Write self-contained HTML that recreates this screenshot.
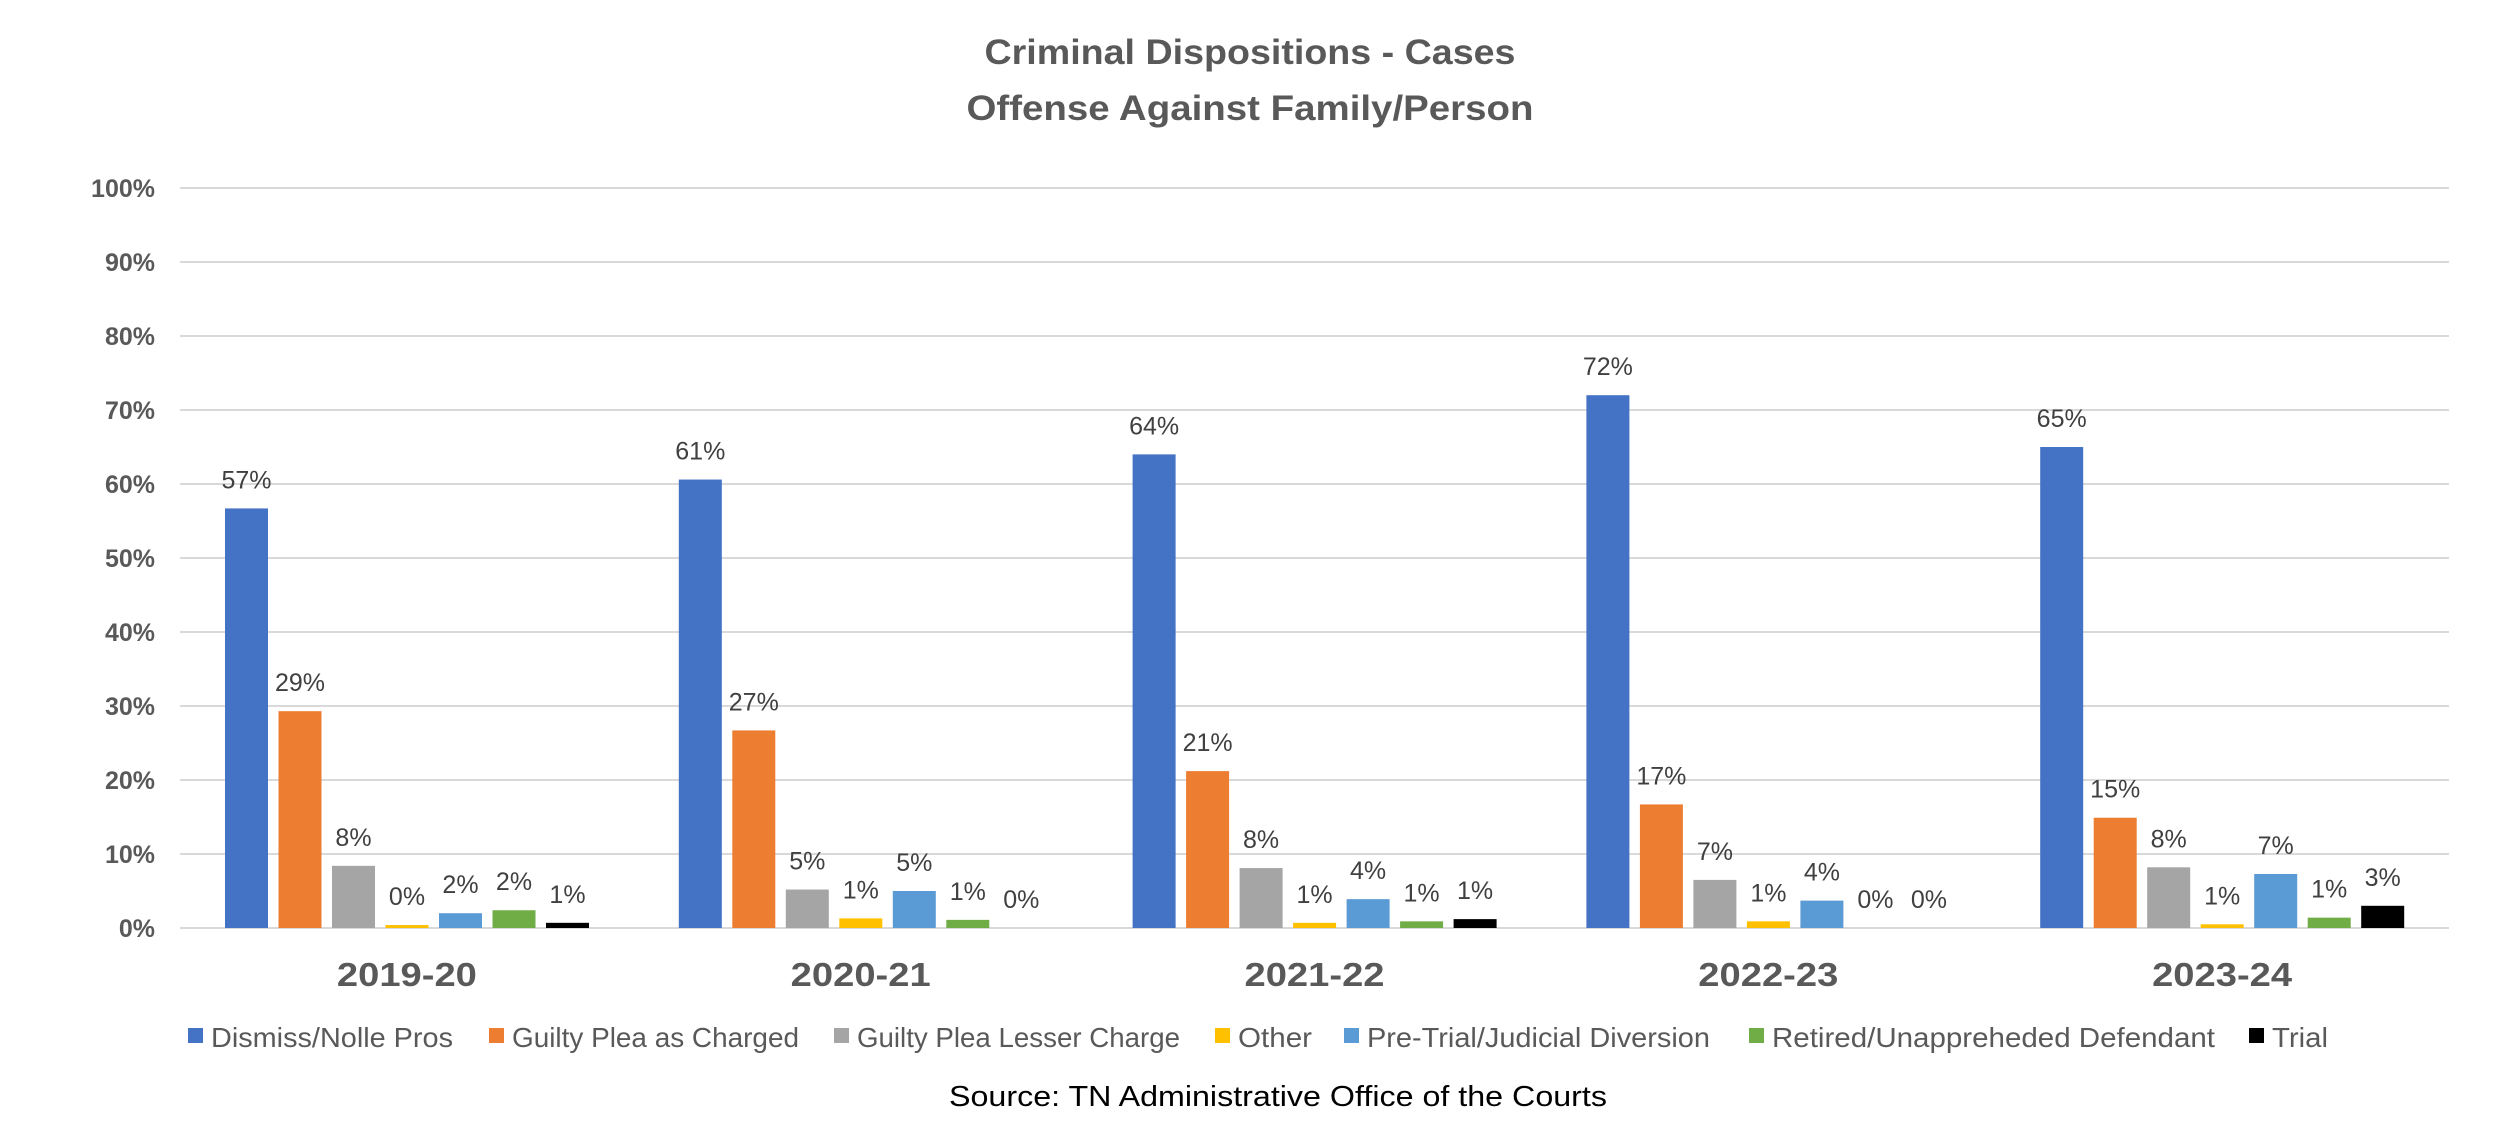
<!DOCTYPE html>
<html><head><meta charset="utf-8"><style>
body{margin:0;background:#fff;}
svg{display:block;font-family:"Liberation Sans",sans-serif;}
</style></head><body>
<svg id="c" width="2500" height="1136" xmlns="http://www.w3.org/2000/svg">
<text x="1250" y="64" text-anchor="middle" font-size="35" font-weight="bold" fill="#595959" textLength="531" lengthAdjust="spacingAndGlyphs">Criminal Dispositions - Cases</text>
<text x="1250" y="120" text-anchor="middle" font-size="35" font-weight="bold" fill="#595959" textLength="567" lengthAdjust="spacingAndGlyphs">Offense Against Family/Person</text>
<text x="1278" y="1106" text-anchor="middle" font-size="29" fill="#000" textLength="658" lengthAdjust="spacingAndGlyphs">Source: TN Administrative Office of the Courts</text>
<g id="grid"></g><g id="bars"></g><g id="legend"></g>
</svg>
<script>
const categories=["2019-20","2020-21","2021-22","2022-23","2023-24"];
const seriesNames=["Dismiss/Nolle Pros","Guilty Plea as Charged","Guilty Plea Lesser Charge","Other","Pre-Trial/Judicial Diversion","Retired/Unappreheded Defendant","Trial"];
const dismiss=[56.7,60.6,64.0,72.0,65.0];
const pleaCharged=[29.3,26.7,21.2,16.7,14.9];
const pleaLesser=[8.4,5.2,8.1,6.5,8.2];
const other=[0.4,1.3,0.7,0.9,0.5];
const diversion=[2.0,5.0,3.9,3.7,7.3];
const retired=[2.4,1.1,0.9,0.0,1.4];
const trial=[0.7,0.0,1.2,0.0,3.0];
const yTicks=[0,10,20,30,40,50,60,70,80,90,100];
const colors=["#4472C4","#ED7D31","#A5A5A5","#FFC000","#5B9BD5","#70AD47","#000000"];
const series=[dismiss,pleaCharged,pleaLesser,other,diversion,retired,trial];
const NS="http://www.w3.org/2000/svg";
const L=180,R=2449,T=188,B=928;
const y=v=>B-(v/100)*(B-T);
const gw=(R-L)/categories.length;
const x=(ci,si)=>L+ci*gw+45+si*53.5;
function mk(tag,attrs,parent){const e=document.createElementNS(NS,tag);for(const k in attrs)e.setAttribute(k,attrs[k]);parent.appendChild(e);return e;}
const grid=document.getElementById('grid'),bars=document.getElementById('bars'),leg=document.getElementById('legend');
yTicks.forEach(t=>{
 const l=mk('line',{x1:L,x2:R,y1:y(t),y2:y(t),stroke:'#d9d9d9','stroke-width':2},grid);
 
 
 const tx=mk('text',{x:155,y:y(t)+9,'text-anchor':'end','font-size':25,'font-weight':'bold',fill:'#595959'},grid);
 tx.textContent=t+'%';
 
 
});
categories.forEach((c,ci)=>{
 const tx=mk('text',{x:L+ci*gw+gw/2,y:986,'text-anchor':'middle','font-size':33,'font-weight':'bold',fill:'#595959',textLength:140,lengthAdjust:'spacingAndGlyphs'},bars);
 tx.textContent=c;
 
 
 series.forEach((s,si)=>{
  const v=s[ci];
  const r=mk('rect',{x:x(ci,si),y:y(v),width:43,height:B-y(v),fill:colors[si]},bars);
  
  
  const lb=mk('text',{x:x(ci,si)+21.5,y:y(v)-20,'text-anchor':'middle','font-size':25,fill:'#404040'},bars);
  lb.textContent=Math.round(v)+'%';
  
  
 });
});
const legX=[188,489,834,1215,1344,1749,2249];
const legW=[242,287,323,74,343,443,56];
seriesNames.forEach((n,i)=>{
 const g=mk('g',{},leg);
 
 
 mk('rect',{x:legX[i],y:1028,width:15,height:15,fill:colors[i]},g);
 const t=mk('text',{x:legX[i]+23,y:1047,'font-size':28,fill:'#595959',textLength:legW[i],lengthAdjust:'spacingAndGlyphs'},g);
 t.textContent=n;
});
</script>
</body></html>
